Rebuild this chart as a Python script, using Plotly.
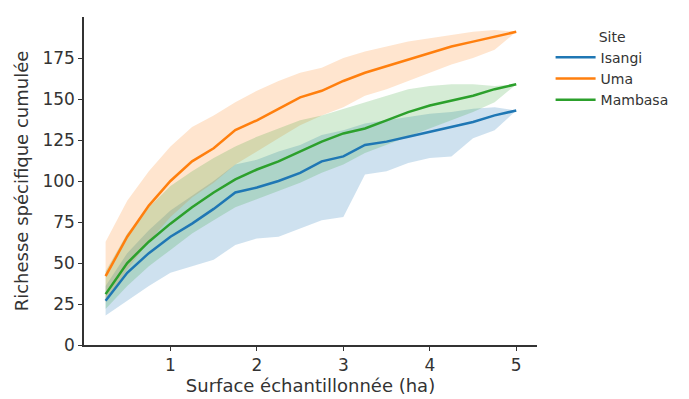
import plotly.graph_objects as go

surface = [0.25, 0.5, 0.75, 1.0, 1.25, 1.5, 1.75, 2.0, 2.25, 2.5,
           2.75, 3.0, 3.25, 3.5, 3.75, 4.0, 4.25, 4.5, 4.75, 5.0]

isangi_mean = [27, 44, 56, 66, 74, 83, 93, 96, 100, 105, 112, 115, 122, 124, 127, 130, 133, 136, 140, 143]
isangi_low = [18, 27, 36, 44, 48, 52, 61, 65, 66, 71, 76, 78, 104, 106, 111, 114, 115, 126, 131, 143]
isangi_high = [36, 56, 70, 82, 91, 100, 110, 113, 118, 122, 128, 131, 135, 137, 139, 141, 142, 144, 145, 143]

uma_mean = [42, 66, 85, 100, 112, 120, 131, 137, 144, 151, 155, 161, 166, 170, 174, 178, 182, 185, 188, 191]
uma_low = [26, 46, 63, 78, 90, 99, 110, 118, 126, 134, 140, 145, 152, 156, 161, 166, 171, 175, 180, 191]
uma_high = [63, 88, 106, 121, 133, 140, 148, 155, 161, 166, 169, 175, 179, 182, 185, 187, 189, 191, 192, 191]

mambasa_mean = [31, 50, 63, 74, 84, 93, 101, 107, 112, 118, 124, 129, 132, 137, 142, 146, 149, 152, 156, 159]
mambasa_low = [22, 36, 48, 58, 68, 76, 84, 89, 94, 99, 105, 110, 117, 122, 127, 132, 137, 142, 148, 159]
mambasa_high = [45, 68, 84, 97, 106, 114, 121, 127, 132, 137, 140, 144, 148, 152, 156, 158, 159, 159, 158, 159]

sites = ["Isangi", "Uma", "Mambasa"]
colors = ["#1f77b4", "#ff7f0e", "#2ca02c"]
fills = ["rgba(31,119,180,0.22)", "rgba(255,127,14,0.2)", "rgba(44,160,44,0.2)"]
series = [(isangi_mean, isangi_low, isangi_high),
          (uma_mean, uma_low, uma_high),
          (mambasa_mean, mambasa_low, mambasa_high)]

fig = go.Figure()
for name, col, fc, (m, lo, hi) in zip(sites, colors, fills, series):
    fig.add_trace(go.Scatter(
        x=surface + surface[::-1], y=hi + lo[::-1],
        fill="toself", fillcolor=fc, line=dict(width=0),
        mode="lines", showlegend=False, hoverinfo="skip"))
for name, col, fc, (m, lo, hi) in zip(sites, colors, fills, series):
    fig.add_trace(go.Scatter(
        x=surface, y=m, mode="lines", name=name,
        line=dict(color=col, width=2.5)))

axis_common = dict(
    showgrid=False, zeroline=False, showline=True, linecolor="#333333",
    linewidth=1.5, ticks="outside", ticklen=4, tickwidth=1, tickcolor="#333333",
    tickfont=dict(size=17, color="#333333"),
)
fig.update_xaxes(range=[0, 5.24], tickvals=[1, 2, 3, 4, 5],
                 title=dict(text="Surface échantillonnée (ha)", font=dict(size=18, color="#333333"), standoff=2),
                 **axis_common)
fig.update_yaxes(range=[0, 200], tickvals=[0, 25, 50, 75, 100, 125, 150, 175],
                 title=dict(text="Richesse spécifique cumulée", font=dict(size=18, color="#333333"), standoff=9),
                 **axis_common)

fig.update_layout(
    width=681, height=391,
    margin=dict(l=76, r=152, t=9, b=44),
    plot_bgcolor="white", paper_bgcolor="white",
    font=dict(family="DejaVu Sans", color="#333333"),
    legend=dict(title=dict(text="Site", side="top center", font=dict(size=14)),
                font=dict(size=14), x=1.03, y=0.98, xanchor="left", yanchor="top",
                bgcolor="rgba(0,0,0,0)", tracegroupgap=0, itemwidth=40),
)

fig.write_html("out.html")
